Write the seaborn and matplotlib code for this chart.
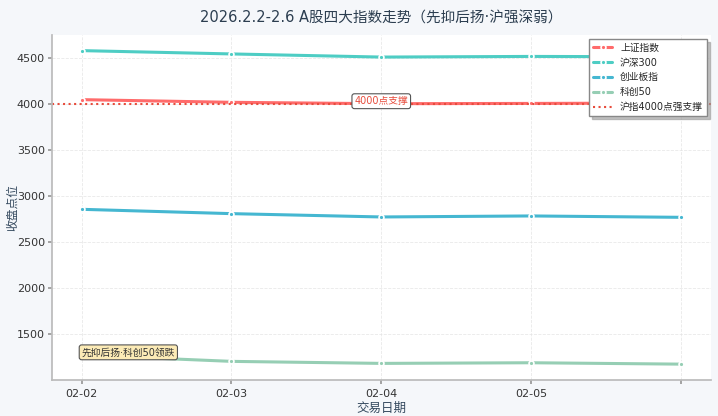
import seaborn as sns
import pandas as pd
import numpy as np
import matplotlib.pyplot as plt

# data
dates = ["02-02", "02-03", "02-04", "02-05", "02-06"]
sh_index = [4047, 4018, 4003, 4006, 4010]
hs300 = [4579, 4543, 4509, 4516, 4512]
cyb = [2857, 2810, 2774, 2785, 2770]
kc50 = [1275, 1207, 1185, 1192, 1177]
names = ["上证指数", "沪深300", "创业板指", "科创50"]
colors = ["#FF6B6B", "#4ECDC4", "#45B7D1", "#96CEB4"]
support_level = 4000

sns.set_theme(style="whitegrid")
plt.rcParams['font.family'] = ['DejaVu Sans', 'Noto Sans CJK SC']
plt.rcParams['axes.unicode_minus'] = False

df = pd.DataFrame({
    "day": list(range(len(dates))) * 4,
    "close": sh_index + hs300 + cyb + kc50,
    "index": [n for n in names for _ in dates],
})

fig, ax = plt.subplots(figsize=(7.18, 4.16), dpi=100)
fig.patch.set_facecolor("#f5f7fa")
ax.set_facecolor("white")

sns.lineplot(data=df, x="day", y="close", hue="index", palette=colors,
             marker="o", markersize=3.5, markeredgecolor="white", markeredgewidth=1.2,
             linewidth=2.2, ax=ax)

ax.axhline(support_level, color="#E74C3C", linestyle=":", linewidth=1.5, label="沪指4000点强支撑")

# annotations
ax.text(2, 4030, "4000点支撑", ha="center", va="center", fontsize=7, color="#E74C3C",
        bbox=dict(boxstyle="round,pad=0.25", facecolor="white", edgecolor="#555555", linewidth=0.8))
ax.text(0, 1305, "先抑后扬·科创50领跌", ha="left", va="center", fontsize=7, color="#333333",
        bbox=dict(boxstyle="round,pad=0.25", facecolor="#FCEBB6", edgecolor="#555555", linewidth=0.8))

ax.set_xticks(range(len(dates)))
ax.set_xticklabels(dates[:-1] + [""], fontsize=8, color="#333333")
ax.tick_params(axis="y", labelsize=8, labelcolor="#333333", left=True, length=3, color="#999999", pad=2)
ax.tick_params(axis="x", bottom=True, length=3, color="#999999")
ax.grid(True, linestyle="--", linewidth=0.6, color="#e3e3e3", alpha=0.8)

ax.set_title("2026.2.2-2.6 A股四大指数走势（先抑后扬·沪强深弱）", fontsize=10.5, color="#2c3e50", pad=9)
ax.set_xlabel("交易日期", fontsize=9, color="#34495e", labelpad=2)
ax.set_ylabel("收盘点位", fontsize=8.5, color="#34495e")
ax.yaxis.set_label_coords(-0.05, 0.5)

sns.despine(ax=ax)
for side in ["left", "bottom"]:
    ax.spines[side].set_color("#bbbbbb")

ax.legend(loc="upper right", fontsize=7, frameon=True, fancybox=False,
          shadow={"color": "#999999", "alpha": 0.6},
          facecolor="white", edgecolor="#888888", borderaxespad=0.4)

plt.subplots_adjust(left=0.072, right=0.99, top=0.916, bottom=0.087)
plt.savefig("out.png", dpi=100, facecolor=fig.get_facecolor())
plt.close()
